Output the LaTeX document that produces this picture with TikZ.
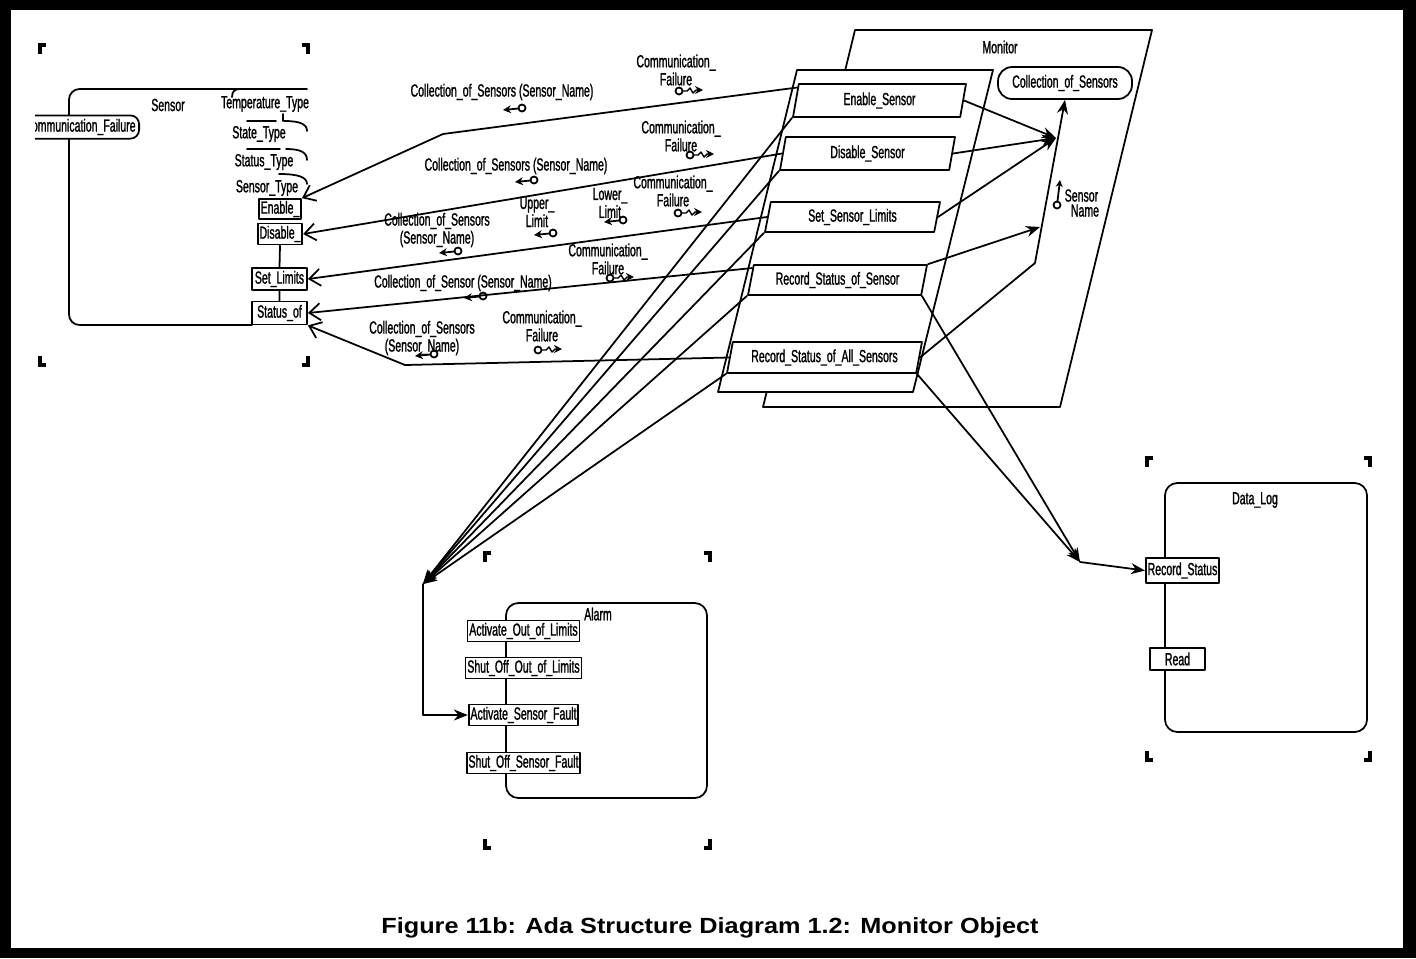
\documentclass[tikz,border=0pt]{standalone}
\usepackage{fontspec}
\setmainfont{Liberation Sans}
\newfontfamily\asdfont[FakeStretch=0.6,FakeBold=1.2]{Liberation Sans}
\newfontfamily\capfont[FakeStretch=1.15]{Liberation Sans}
\usepackage{tikz}
\usetikzlibrary{arrows.meta,shapes.geometric}
\tikzset{
  asd diagram/.style={font={\asdfont\fontsize{10}{8.5}\selectfont},
    line width=1pt, line cap=round, line join=round, x=0.02cm, y=-0.02cm},
  asd entry/.style={draw, fill=white, inner sep=1pt},
  asd op/.style={trapezium, trapezium left angle=76, trapezium right angle=104,
    trapezium stretches body, draw, fill=white, inner sep=2pt},
  asd pill/.style={draw, fill=white, rounded corners=5pt, inner sep=2pt, minimum height=0.38cm},
  asd label/.style={align=center, inner sep=0pt},
  asd corner/.style={line width=1.8pt, line cap=butt, line join=miter},
  asd call/.style={-{Straight Barb[length=2.2mm,width=3.4mm]}},
  asd arrow/.style={-{Stealth[length=2.8mm,width=2.2mm]}},
  asd param/.pic={
    \draw (0,0) circle[radius=2pt];
    \draw[-{Stealth[length=1.6mm,width=1.6mm]}] (-3.5,0.5) -- (-19,2);
  },
  asd exc/.pic={
    \draw (0,0) circle[radius=2pt];
    \draw[line width=0.8pt,-{Stealth[length=1.6mm,width=1.6mm]}] (3.5,0) -- (8,0) -- (11,-3) -- (14,2) -- (17,-1) -- (24,-1);
  }
}
\begin{document}
\begin{tikzpicture}[asd diagram]
% page frame
\fill (0,0) rectangle (1416,958);
\fill[white] (11,10) rectangle (1403,948);

% corner marks of the units
\foreach \xa/\ya/\xb/\yb in {40/45/308/365,485/553/710/848,1147/458/1370/760} {
  \draw[asd corner] (\xa,\ya+9) -- (\xa,\ya) -- (\xa+6,\ya);
  \draw[asd corner] (\xb-6,\ya) -- (\xb,\ya) -- (\xb,\ya+9);
  \draw[asd corner] (\xa,\yb-9) -- (\xa,\yb) -- (\xa+6,\yb);
  \draw[asd corner] (\xb-6,\yb) -- (\xb,\yb) -- (\xb,\yb-9);
}

% Sensor unit
\draw[rounded corners=6pt] (307,89) -- (69,89) -- (69,325) -- (252,325);
\node (sName) at (168,105) {Sensor};
\begin{scope}
  \clip (35,105) rectangle (160,150);
  \node[asd pill, anchor=east] (sExc) at (140,127) {Communication\_Failure};
\end{scope}
\node (tTemp) at (265,104) {Temperature\_Type};
\node (tState) at (259,134) {State\_Type};
\node (tStatus) at (264,162) {Status\_Type};
\node (tSensor) at (267,188) {Sensor\_Type};
\draw (232,97) .. controls (232,91) and (235,89) .. (240,89);
\draw (283,114) -- (283,121);
\draw (247,121) -- (276,121);
\draw (284,121) .. controls (300,121) and (307,124) .. (307,131);
\draw (247,149) -- (280,149);
\draw (286,149) .. controls (300,149) and (307,152) .. (307,160);
\draw (279,174) .. controls (298,174) and (307,177) .. (307,184);
\node[asd entry, minimum width=0.84cm, minimum height=0.40cm] (sEnable) at (280,209) {Enable\_};
\node[asd entry, minimum width=0.84cm, minimum height=0.42cm] (sDisable) at (280,234) {Disable\_};
\node[asd entry, minimum width=1.10cm, minimum height=0.44cm] (sSetLim) at (279.5,279) {Set\_Limits};
\node[asd entry, minimum width=1.10cm, minimum height=0.46cm] (sStatus) at (279.5,313) {Status\_of};
\draw (sDisable.south) -- (sSetLim.north) (sSetLim.south) -- (sStatus.north);

% Monitor unit
\draw[fill=white] (855,30) -- (1152,30) -- (1060,407) -- (763,407) -- cycle;
\draw[fill=white] (797,70) -- (993,70) -- (913,392) -- (718,392) -- cycle;
\node (mName) at (1000,47) {Monitor};
\node[asd pill, minimum width=2.68cm, minimum height=0.64cm, rounded corners=8pt] (mColl) at (1065,83) {Collection\_of\_Sensors};
\node[asd op, minimum width=3.46cm, minimum height=0.66cm] (mEnable) at (879.5,100.5) {Enable\_Sensor};
\node[asd op, minimum width=3.5cm, minimum height=0.66cm] (mDisable) at (867.5,153.5) {Disable\_Sensor};
\node[asd op, minimum width=3.5cm, minimum height=0.6cm] (mSetLim) at (852.5,217) {Set\_Sensor\_Limits};
\node[asd op, minimum width=3.58cm, minimum height=0.6cm] (mRecOne) at (837.5,280) {Record\_Status\_of\_Sensor};
\node[asd op, minimum width=3.9cm, minimum height=0.62cm] (mRecAll) at (824.5,357.5) {Record\_Status\_of\_All\_Sensors};
\node[asd label, anchor=west] (mParam) at (1063,203) {Sensor\\\hspace*{4pt}Name};
\draw (1057,205) circle[radius=2pt];
\draw[-{Stealth[length=1.4mm,width=1.4mm]}] (1057.5,201) -- (1060,180);

% Alarm unit
\draw[rounded corners=7pt] (506,603) rectangle (707,798);
\node (aName) at (598,614) {Alarm};
\node[asd entry, minimum width=2.14cm, minimum height=0.42cm] (aActOut) at (523.5,631) {Activate\_Out\_of\_Limits};
\node[asd entry, minimum width=2.14cm, minimum height=0.42cm] (aOffOut) at (523.5,668) {Shut\_Off\_Out\_of\_Limits};
\node[asd entry, minimum width=2.14cm, minimum height=0.42cm] (aActFault) at (523.5,715) {Activate\_Sensor\_Fault};
\node[asd entry, minimum width=2.14cm, minimum height=0.42cm] (aOffFault) at (523.5,763) {Shut\_Off\_Sensor\_Fault};

% Data_Log unit
\draw[rounded corners=7pt] (1165,483) rectangle (1367,732);
\node (dName) at (1255,500) {Data\_Log};
\node[asd entry, minimum width=1.38cm, minimum height=0.5cm] (dRecord) at (1182.5,570.5) {Record\_Status};
\node[asd entry, minimum width=1.1cm, minimum height=0.44cm] (dRead) at (1177.5,659) {Read};

% calls inside Monitor
\coordinate (collIn) at (1056,138);
\coordinate (nameIn) at (1040,227);
\coordinate (collBend) at (1035,263);
\draw[asd arrow] (mEnable.east) -- (collIn);
\draw[asd arrow] (mDisable.east) -- (collIn);
\draw[asd arrow] (mSetLim.east) -- (collIn);
\draw[asd arrow] (mRecOne.top right corner) -- (nameIn);
\draw[asd arrow] (mRecAll.east) -- (collBend) -- (mColl.south);

% calls to Sensor
\coordinate (bendEn) at (443,134);
\coordinate (bendAll) at (405,365);
\draw[asd call] (mEnable.171) -- (bendEn) -- (sEnable.north east);
\draw[asd call] (mDisable.west) -- (sDisable.east);
\draw[asd call] (mSetLim.west) -- (sSetLim.east);
\draw[asd call] (mRecOne.172) -- (sStatus.east);
\draw[asd call] (mRecAll.west) -- (bendAll) -- (sStatus.south east);

% calls to Alarm
\coordinate (alarmIn) at (423,584);
\foreach \op in {mEnable,mDisable,mSetLim,mRecOne,mRecAll}
  \draw[asd arrow] (\op.bottom left corner) -- (alarmIn);
\draw[asd arrow] (alarmIn) |- (aActFault.west);

% calls to Data_Log
\coordinate (logIn) at (1080,562);
\draw[asd arrow] (mRecOne.bottom right corner) -- (logIn);
\draw[asd arrow] (mRecAll.bottom right corner) -- (logIn);
\draw[asd arrow] (logIn) -- (dRecord.west);

% parameters and exceptions on the calls
\node[asd label] (lColl1) at (502,92) {Collection\_of\_Sensors (Sensor\_Name)};
\pic at (522,108) {asd param};
\node[asd label] (lExc1) at (676,70) {Communication\_\\Failure};
\pic at (679,91) {asd exc};
\node[asd label] (lColl2) at (516,166) {Collection\_of\_Sensors (Sensor\_Name)};
\pic at (534,180) {asd param};
\node[asd label] (lExc2) at (681,136) {Communication\_\\Failure};
\pic at (690,155) {asd exc};
\node[asd label] (lColl3) at (437,230) {Collection\_of\_Sensors\\(Sensor\_Name)};
\pic at (458,251) {asd param};
\node[asd label] (lUpper) at (537,212) {Upper\_\\Limit};
\pic at (553,233) {asd param};
\node[asd label] (lLower) at (610,203) {Lower\_\\Limit};
\pic at (623,220) {asd param};
\node[asd label] (lExc3) at (673,191) {Communication\_\\Failure};
\pic at (678,213) {asd exc};
\node[asd label] (lColl4) at (463,283) {Collection\_of\_Sensor (Sensor\_Name)};
\pic at (483,296) {asd param};
\node[asd label] (lExc4) at (608,259) {Communication\_\\Failure};
\pic at (610,278) {asd exc};
\node[asd label] (lColl5) at (422,338) {Collection\_of\_Sensors\\(Sensor\_Name)};
\pic at (434,354) {asd param};
\node[asd label] (lExc5) at (542,326) {Communication\_\\Failure};
\pic at (538,350) {asd exc};

% caption
\node[font={\capfont\bfseries\fontsize{12.5}{14}\selectfont}] (caption) at (710,928) {Figure 11b: Ada Structure Diagram 1.2: Monitor Object};
\end{tikzpicture}
\end{document}
